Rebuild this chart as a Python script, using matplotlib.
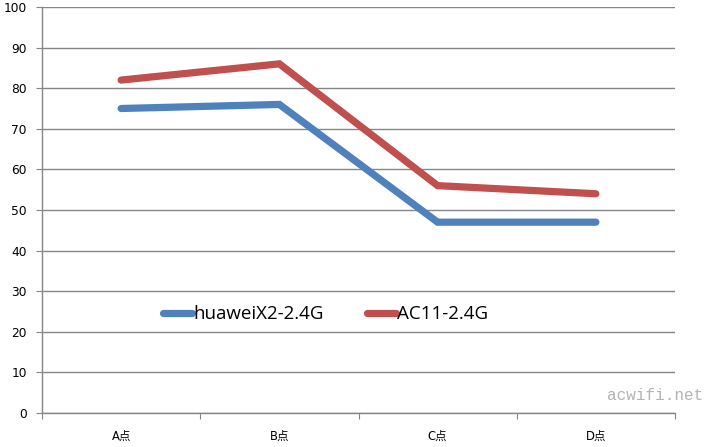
import matplotlib
matplotlib.use("Agg")
import matplotlib.pyplot as plt

categories = ["A点", "B点", "C点", "D点"]
huawei = [75, 76, 47, 47]
ac11 = [82, 86, 56, 54]
series_names = ["huaweiX2-2.4G", "AC11-2.4G"]
yticks = list(range(0, 101, 10))

plt.rcParams['font.family'] = ['DejaVu Sans', 'Noto Sans CJK SC']

fig = plt.figure(figsize=(7.06, 4.47), dpi=100)
ax = fig.add_axes([42/706, 1-413/447, (675-42)/706, (413-7)/447])

x = list(range(len(categories)))
ax.plot(x, huawei, color="#4F81BD", lw=5.2, solid_capstyle='round', solid_joinstyle='miter', label=series_names[0], zorder=3)
ax.plot(x, ac11, color="#C0504D", lw=5.2, solid_capstyle='round', solid_joinstyle='miter', label=series_names[1], zorder=3)

ax.set_xlim(-0.5, len(categories) - 0.5)
ax.set_ylim(0, 100)
ax.set_yticks(yticks)
ax.set_yticklabels([str(v) for v in yticks], fontsize=8.8)
ax.yaxis.grid(True, color="#868686", lw=1)
ax.set_axisbelow(True)

ax.set_xticks([i - 0.5 for i in range(len(categories) + 1)])
ax.set_xticklabels([])
ax.set_xticks(x, minor=True)
ax.set_xticklabels(categories, minor=True, fontsize=8.3)
ax.tick_params(axis='x', which='minor', length=0, pad=12)
ax.tick_params(axis='x', which='major', length=4, color="#868686", direction='out')
ax.tick_params(axis='y', length=4, color="#868686", direction='out', pad=7)

for s in ['top', 'right']:
    ax.spines[s].set_visible(False)
for s in ['left', 'bottom']:
    ax.spines[s].set_color("#868686")
    ax.spines[s].set_linewidth(1)

leg = ax.legend(loc='center', bbox_to_anchor=(0.448, 0.243), ncol=2, frameon=False,
                prop={'family': 'Open Sans', 'size': 13.5}, handlelength=1.55,
                handletextpad=0.05, columnspacing=2.3)

fig.text(703/706, 1-395/447, "acwifi.net", ha='right', va='center', color="#b4b4b4",
         fontsize=11.5, family='Liberation Mono')

fig.savefig("out.png", dpi=100)
